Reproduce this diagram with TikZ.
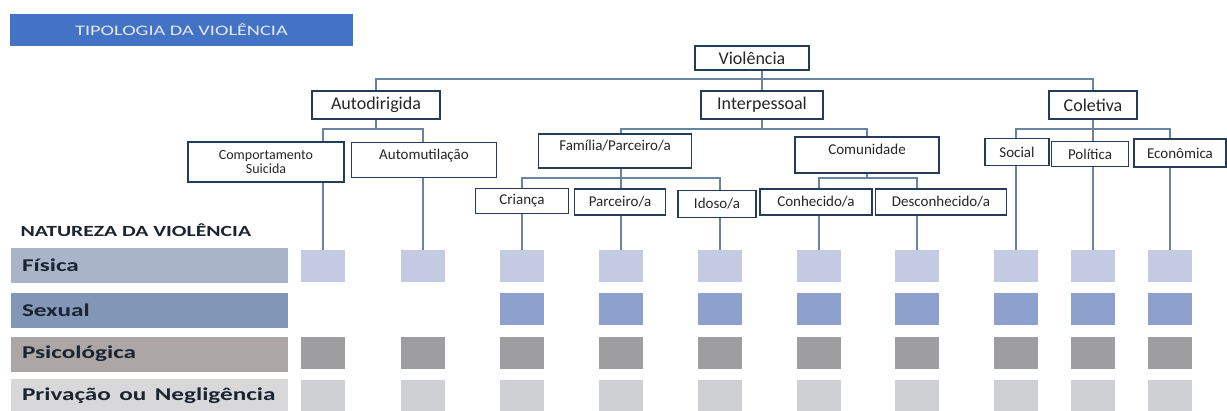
\documentclass[tikz,border=0pt]{standalone}
\usepackage{fontspec}
\setmainfont{Carlito}
\usetikzlibrary{backgrounds}

\definecolor{bannerblue}{RGB}{68,114,196}
\definecolor{bannertext}{RGB}{225,233,245}
\definecolor{boxnavy}{RGB}{36,60,90}
\definecolor{linkblue}{RGB}{104,132,160}
\definecolor{fisicabar}{RGB}{170,180,200}
\definecolor{fisicasq}{RGB}{196,202,226}
\definecolor{sexualbar}{RGB}{130,150,182}
\definecolor{sexualsq}{RGB}{142,160,204}
\definecolor{psicobar}{RGB}{172,167,166}
\definecolor{psicosq}{RGB}{158,158,160}
\definecolor{privbar}{RGB}{216,216,218}
\definecolor{privsq}{RGB}{206,208,211}
\definecolor{labeltext}{RGB}{28,36,50}

\newcommand{\hwide}[1]{\scalebox{1.4}[1]{#1}}

\begin{document}
\begin{tikzpicture}[
    x=1pt, y=-1pt,
    font=\fontsize{15}{16}\selectfont,
    box/.style={draw=boxnavy, fill=white, line width=1.6pt, text=black!85,
                inner sep=2pt, align=center},
    topbox/.style={box, font=\fontsize{18}{20}\selectfont},
    link/.style={draw=linkblue, line width=1.4pt},
    bar/.style={fill=#1, text=labeltext, text width=255pt, align=left,
                inner xsep=11pt, inner ysep=0pt, minimum height=35pt,
                font=\fontsize{18}{20}\selectfont\bfseries},
    sq/.style={fill=#1, minimum width=44pt, minimum height=32pt, inner sep=0pt}
]
\useasboundingbox (0,0) rectangle (1227,410);

\node[fill=bannerblue, text=bannertext, minimum width=343pt, minimum height=32pt,
      inner sep=0pt, font=\fontsize{14.5}{16}\selectfont] (titulo) at (181.5,30)
      {\hwide{TIPOLOGIA DA VIOLÊNCIA}};

\node[topbox, minimum width=114pt, minimum height=24pt] (violencia) at (752,58) {Violência};

\node[topbox, minimum width=128pt, minimum height=28pt] (autodir) at (376,105) {Autodirigida};
\node[topbox, minimum width=122pt, minimum height=28pt] (interp) at (762,105) {Interpessoal};
\node[topbox, minimum width=88pt, minimum height=28pt] (coletiva) at (1093,105) {Coletiva};

\node[box, minimum width=156pt, minimum height=40pt, font=\fontsize{14}{14.5}\selectfont]
    (suicida) at (266,162) {Comportamento\\Suicida};
\node[box, minimum width=145pt, minimum height=35pt, text depth=12pt] (automut) at (424,160) {Automutilação};
\node[box, minimum width=153pt, minimum height=34pt, text depth=12pt] (familia) at (615,151) {Família/Parceiro/a};
\node[box, minimum width=144pt, minimum height=36pt, text depth=12pt] (comunidade) at (867,155) {Comunidade};
\node[box, minimum width=64pt, minimum height=27pt] (social) at (1017,152) {Social};
\node[box, minimum width=77pt, minimum height=25pt] (politica) at (1090,154) {Política};
\node[box, minimum width=92pt, minimum height=28pt] (economica) at (1180,153) {Econômica};

\node[box, minimum width=93pt, minimum height=25pt] (crianca) at (522,201) {Criança};
\node[box, minimum width=91pt, minimum height=26pt] (parceiro) at (620,202) {Parceiro/a};
\node[box, minimum width=78pt, minimum height=27pt] (idoso) at (717,204) {Idoso/a};
\node[box, minimum width=112pt, minimum height=26pt] (conhecido) at (816,202) {Conhecido/a};
\node[box, minimum width=131pt, minimum height=26pt] (desconhecido) at (941,202) {Desconhecido/a};

\node[anchor=west, text=labeltext, font=\fontsize{15.5}{17}\selectfont\bfseries] (natureza) at (17,230)
    {\hwide{NATUREZA DA VIOLÊNCIA}};
\node[bar=fisicabar] (fisica) at (149.5,265) {\hwide{Física}};
\node[bar=sexualbar] (sexual) at (149.5,310) {\hwide{Sexual}};
\node[bar=psicobar] (psico) at (149.5,354) {\hwide{Psicológica}};
\node[bar=privbar] (privacao) at (149.5,396) {\hwide{Privação ou Negligência}};

\foreach \x [count=\i] in {323,423,522,621,720,819,917,1016,1093,1170} {
    \node[sq=fisicasq] (f\i) at (\x,266) {};
    \node[sq=psicosq] (p\i) at (\x,353) {};
    \node[sq=privsq] (n\i) at (\x,396) {};
}
\foreach \x [count=\i from 3] in {522,621,720,819,917,1016,1093,1170}
    \node[sq=sexualsq] (s\i) at (\x,309) {};

\coordinate (busA) at (0,79);
\coordinate (busB) at (0,129);
\coordinate (busC) at (0,178);

\begin{scope}[on background layer]
    \draw[link] (interp |- violencia) -- (interp);
    \draw[link] (autodir) -- (autodir |- busA) -| (coletiva);
    \draw[link] (autodir) -- (autodir |- busB);
    \draw[link] (f1) |- (f2 |- busB) -- (f2);
    \draw[link] (interp) -- (interp |- busB);
    \draw[link] (f4 |- familia) |- (comunidade |- busB) -- (comunidade);
    \draw[link] (f4 |- familia) -- (f4);
    \draw[link] (f3) |- (f5 |- busC) -- (f5);
    \draw[link] (comunidade) -- (comunidade |- busC);
    \draw[link] (f6) |- (f7 |- busC) -- (f7);
    \draw[link] (coletiva) -- (f9);
    \draw[link] (f8) |- (f10 |- busB) -- (f10);
\end{scope}

\end{tikzpicture}
\end{document}
